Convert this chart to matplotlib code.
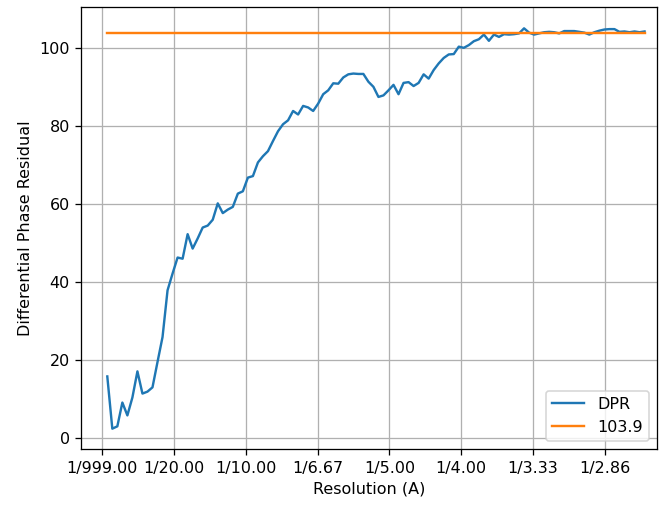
import numpy as np
import matplotlib
matplotlib.use("Agg")
import matplotlib.pyplot as plt

# DPR curve, one value per Fourier shell
box_apix = 286.0
dpr = [15.7, 2.3, 2.9, 9.0, 5.7, 10.3, 17.0, 11.3, 11.8, 12.9,
       19.4, 25.8, 37.8, 42.1, 46.2, 45.9, 52.2, 48.5, 51.1, 53.9,
       54.4, 55.9, 60.1, 57.6, 58.5, 59.2, 62.6, 63.2, 66.7, 67.1,
       70.6, 72.2, 73.5, 76.1, 78.6, 80.4, 81.4, 83.8, 82.9, 85.1,
       84.7, 83.8, 85.7, 88.1, 89.1, 90.9, 90.8, 92.4, 93.2, 93.4,
       93.3, 93.3, 91.3, 90.0, 87.4, 87.8, 89.1, 90.5, 88.1, 91.0,
       91.2, 90.2, 91.0, 93.2, 92.1, 94.3, 96.0, 97.4, 98.3, 98.4,
       100.3, 100.0, 100.7, 101.7, 102.2, 103.4, 101.8, 103.4, 102.8, 103.5,
       103.4, 103.5, 103.7, 105.0, 103.9, 103.4, 103.7, 104.0, 104.1, 104.0,
       103.7, 104.3, 104.3, 104.3, 104.1, 103.9, 103.4, 104.0, 104.4, 104.7,
       104.8, 104.8, 104.1, 104.2, 104.0, 104.2, 104.0, 104.2]
threshold = 103.9

tick_pos = [0.0, 0.05, 0.10, 0.15, 0.20, 0.25, 0.30, 0.35]
tick_labels = ["1/999.00", "1/20.00", "1/10.00", "1/6.67",
               "1/5.00", "1/4.00", "1/3.33", "1/2.86"]

freq = np.arange(1, len(dpr) + 1) / box_apix

# reference looks rendered a bit larger than 100 dpi
dpi = 115
fig = plt.figure(figsize=(663 / dpi, 506 / dpi), dpi=dpi)
ax = fig.add_axes([0.1222, 0.112, 0.8688, 0.8736])

ax.plot(freq, dpr, label="DPR")
ax.plot([freq[0], freq[-1]], [threshold, threshold], label=f"{threshold}")

ax.set_xticks(tick_pos)
ax.set_xticklabels(tick_labels)
ax.set_xlim(-0.0148, 0.3863)
ax.set_ylim(-3.0, 110.4)
ax.set_xlabel("Resolution (A)")
ax.set_ylabel("Differential Phase Residual")
ax.grid(True)
ax.legend(loc="lower right")

fig.savefig("out.png", dpi=dpi)
